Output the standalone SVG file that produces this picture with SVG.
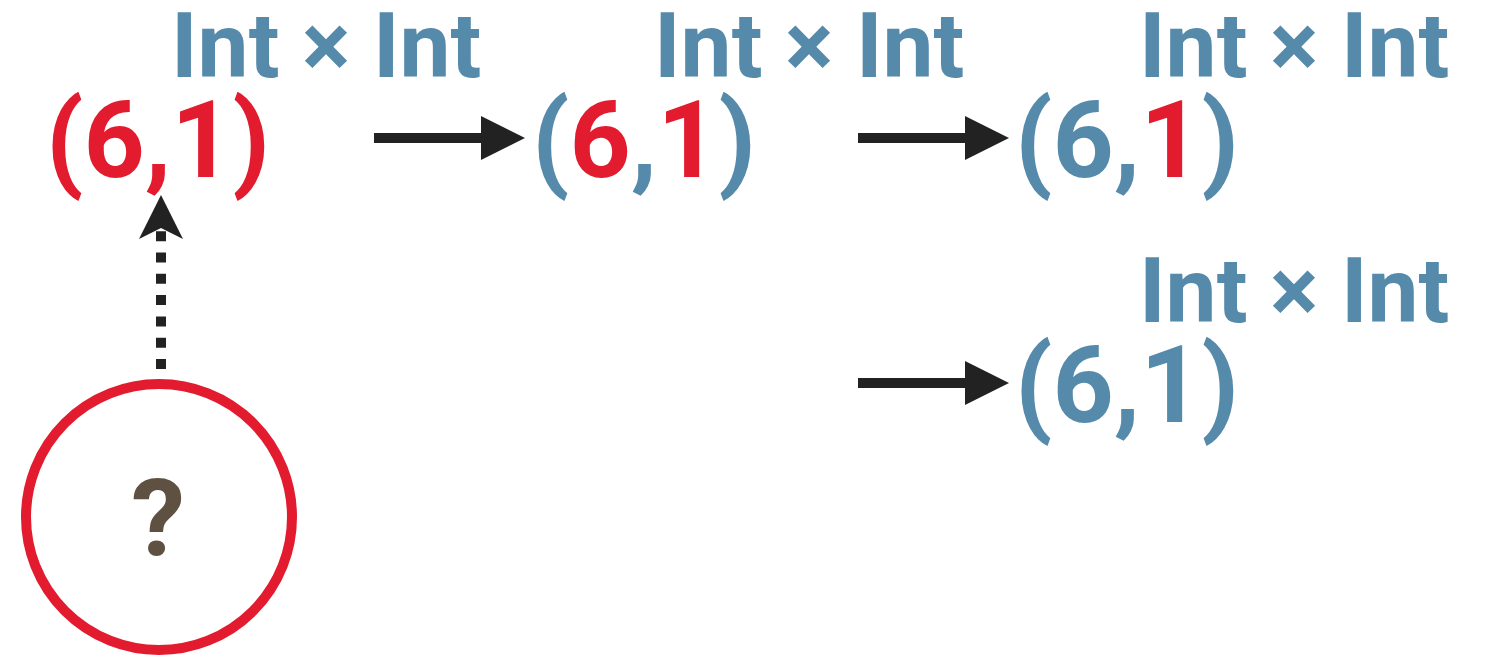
<svg xmlns="http://www.w3.org/2000/svg" width="1487" height="656" viewBox="0 0 1487 656">
<style>
.type{font-family:Roboto,"Liberation Sans",sans-serif;font-weight:bold;font-size:91px;fill:#568aab}
.val{font-family:Roboto,"Liberation Sans",sans-serif;font-weight:bold;font-size:107px;fill:#568aab}
.r{fill:#e21b2e}
.q{font-family:Roboto,"Liberation Sans",sans-serif;font-weight:bold;font-size:108px;fill:#5f5142}
.arrow{stroke:#222;stroke-width:10;fill:none}
</style>
<defs>
<marker id="head" markerUnits="userSpaceOnUse" markerWidth="44" markerHeight="44" refX="0" refY="22" orient="auto" viewBox="0 0 44 44">
<path d="M0,0 L44,22 L0,44 z" fill="#222"/>
</marker>
<marker id="stealth" markerUnits="userSpaceOnUse" markerWidth="44" markerHeight="44" refX="11" refY="22" orient="auto" viewBox="0 0 44 44">
<path d="M0,0 L44,22 L0,44 L11,22 z" fill="#222"/>
</marker>
</defs>
<g id="node1">
<text class="type" x="171" y="77">Int × Int</text>
<text class="val r" x="46" y="177">(6,1)</text>
</g>
<g id="node2">
<text class="type" x="654" y="77">Int × Int</text>
<text class="val" x="532" y="177">(<tspan class="r">6</tspan>,<tspan class="r">1</tspan>)</text>
</g>
<g id="node3">
<text class="type" x="1139" y="77">Int × Int</text>
<text class="val" x="1015" y="177">(6,<tspan class="r">1</tspan>)</text>
</g>
<g id="node4">
<text class="type" x="1139" y="322">Int × Int</text>
<text class="val" x="1015" y="422">(6,1)</text>
</g>
<g id="unknown">
<circle cx="159" cy="517" r="133" fill="none" stroke="#e21b2e" stroke-width="10"/>
<text class="q" x="158" y="555" text-anchor="middle">?</text>
</g>
<g id="connectors">
<line class="arrow" x1="374" y1="138" x2="481" y2="138" marker-end="url(#head)"/>
<line class="arrow" x1="858" y1="138" x2="965" y2="138" marker-end="url(#head)"/>
<line class="arrow" x1="858" y1="383" x2="965" y2="383" marker-end="url(#head)"/>
<line class="arrow" x1="161" y1="369" x2="161" y2="228" stroke-dasharray="10 11.3" marker-end="url(#stealth)"/>
</g>
</svg>
